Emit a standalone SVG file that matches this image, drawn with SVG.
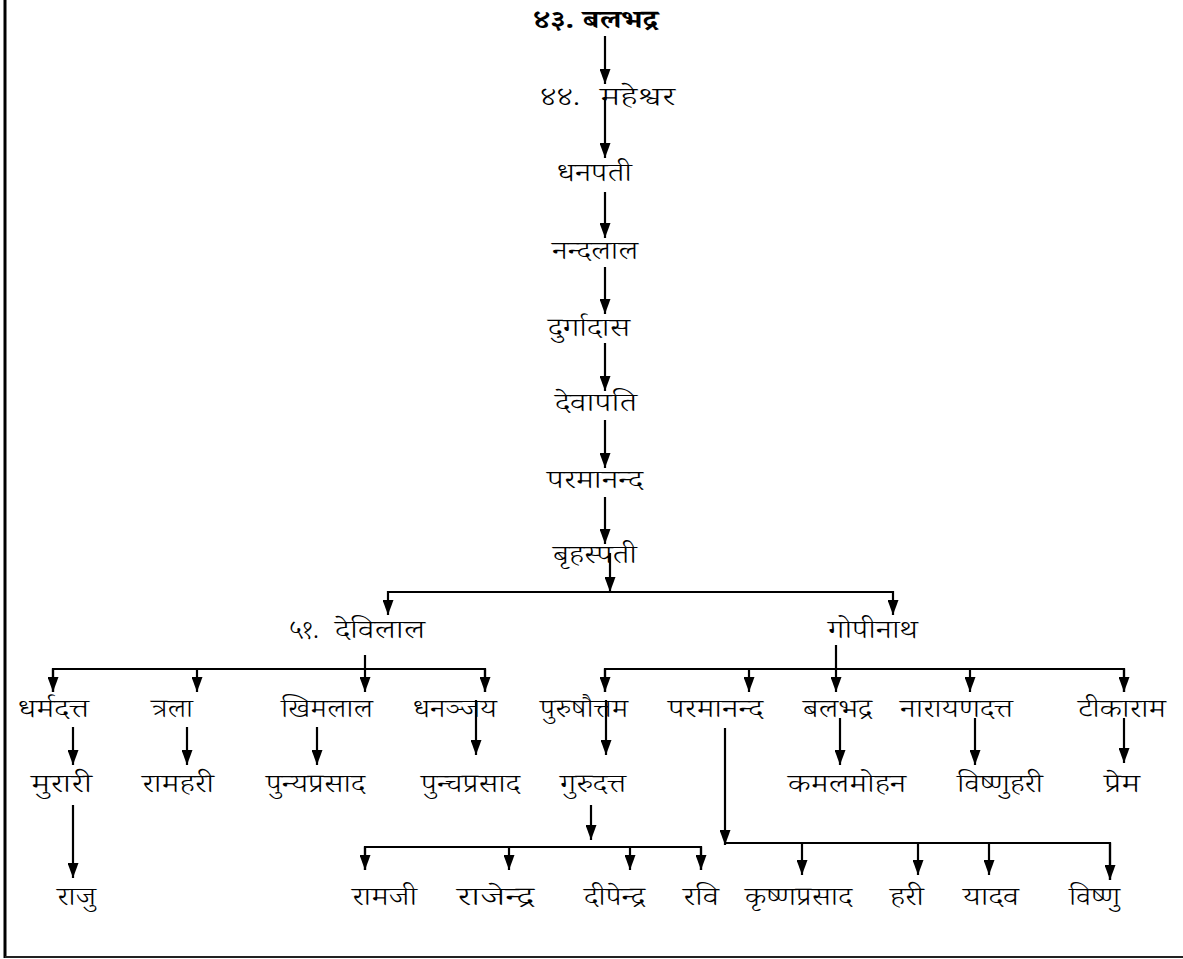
<svg xmlns="http://www.w3.org/2000/svg" width="1183" height="959" viewBox="0 0 1183 959">
<style>
text{font-family:'Noto Serif Devanagari','Noto Sans Devanagari','Lohit Devanagari','Noto Sans',serif;font-size:26px;font-weight:300;fill:#000;text-anchor:start}
.b{font-weight:bold}
.c line,.c polyline{stroke:#000;stroke-width:2.2;fill:none}
.a{marker-end:url(#ah)}
</style>
<defs>
<marker id="ah" viewBox="0 0 15 11" refX="15" refY="5.5" markerWidth="15" markerHeight="11" markerUnits="userSpaceOnUse" orient="auto">
<path d="M0,0 L15,5.5 L0,11 z" fill="#000"/>
</marker>
</defs>
<rect width="1183" height="959" fill="#fff"/>
<line x1="5" y1="0" x2="5" y2="958" stroke="#000" stroke-width="3"/>
<line x1="5" y1="957" x2="1183" y2="957" stroke="#222" stroke-width="2"/>
<g class="c" id="connectors">
<line class="a" x1="605" y1="36" x2="605" y2="84"/>
<line class="a" x1="605" y1="97" x2="605" y2="158"/>
<line class="a" x1="605" y1="192" x2="605" y2="238"/>
<line class="a" x1="605" y1="267" x2="605" y2="314"/>
<line class="a" x1="605" y1="343" x2="605" y2="391"/>
<line class="a" x1="605" y1="420" x2="605" y2="468"/>
<line class="a" x1="605" y1="497" x2="605" y2="544"/>
<line class="a" x1="610" y1="553" x2="610" y2="592"/>
<polyline class="a" points="610,592 388,592 388,615"/>
<polyline class="a" points="610,592 893,592 893,615"/>
<line class="a" x1="365" y1="655" x2="365" y2="692"/>
<polyline points="53,692 53,669 485,669 485,692"/>
<line class="a" x1="53" y1="669" x2="53" y2="692"/>
<line class="a" x1="197" y1="669" x2="197" y2="692"/>
<line class="a" x1="485" y1="669" x2="485" y2="692"/>
<line class="a" x1="836" y1="645" x2="836" y2="692"/>
<polyline points="605,692 605,669 1124,669 1124,692"/>
<line class="a" x1="605" y1="669" x2="605" y2="692"/>
<line class="a" x1="749" y1="669" x2="749" y2="692"/>
<line class="a" x1="970" y1="669" x2="970" y2="692"/>
<line class="a" x1="1124" y1="669" x2="1124" y2="692"/>
<line class="a" x1="73" y1="727" x2="73" y2="765"/>
<line class="a" x1="187" y1="727" x2="187" y2="765"/>
<line class="a" x1="317" y1="727" x2="317" y2="765"/>
<line class="a" x1="476" y1="700" x2="476" y2="755"/>
<line class="a" x1="606" y1="700" x2="606" y2="755"/>
<line class="a" x1="840" y1="718" x2="840" y2="765"/>
<line class="a" x1="975" y1="718" x2="975" y2="765"/>
<line class="a" x1="1124" y1="718" x2="1124" y2="763"/>
<line class="a" x1="73" y1="805" x2="73" y2="878"/>
<line class="a" x1="591" y1="805" x2="591" y2="840"/>
<polyline points="365,870 365,847 701,847 701,870"/>
<line class="a" x1="365" y1="847" x2="365" y2="870"/>
<line class="a" x1="509" y1="847" x2="509" y2="870"/>
<line class="a" x1="630" y1="847" x2="630" y2="870"/>
<line class="a" x1="701" y1="847" x2="701" y2="870"/>
<line class="a" x1="725" y1="728" x2="725" y2="845"/>
<polyline points="725,843 1110,843 1110,880"/>
<line class="a" x1="802" y1="843" x2="802" y2="875"/>
<line class="a" x1="918" y1="843" x2="918" y2="875"/>
<line class="a" x1="989" y1="843" x2="989" y2="875"/>
<line class="a" x1="1110" y1="843" x2="1110" y2="880"/>
</g>
<g id="n43"><text class="b" x="533" y="28" textLength="125" lengthAdjust="spacingAndGlyphs">४३. बलभद्र</text></g>
<g id="n44"><text x="540" y="105" textLength="40" lengthAdjust="spacingAndGlyphs">४४.</text><text x="600" y="105" textLength="75" lengthAdjust="spacingAndGlyphs">महेश्वर</text></g>
<g id="n45"><text x="557" y="181" textLength="75" lengthAdjust="spacingAndGlyphs">धनपती</text></g>
<g id="n46"><text x="552" y="259" textLength="86" lengthAdjust="spacingAndGlyphs">नन्दलाल</text></g>
<g id="n47"><text x="548" y="336" textLength="82" lengthAdjust="spacingAndGlyphs">दुर्गादास</text></g>
<g id="n48"><text x="555" y="411" textLength="82" lengthAdjust="spacingAndGlyphs">देवापति</text></g>
<g id="n49"><text x="547" y="488" textLength="96" lengthAdjust="spacingAndGlyphs">परमानन्द</text></g>
<g id="n50"><text x="553" y="563" textLength="84" lengthAdjust="spacingAndGlyphs">बृहस्पती</text></g>
<g id="n51a"><text x="289" y="638" textLength="30" lengthAdjust="spacingAndGlyphs">५१.</text><text x="335" y="638" textLength="90" lengthAdjust="spacingAndGlyphs">देविलाल</text></g>
<g id="n51b"><text x="828" y="638" textLength="90" lengthAdjust="spacingAndGlyphs">गोपीनाथ</text></g>
<g id="r3a"><text x="18" y="717" textLength="71" lengthAdjust="spacingAndGlyphs">धर्मदत्त</text></g>
<g id="r3b"><text x="151" y="717" textLength="42" lengthAdjust="spacingAndGlyphs">त्रला</text></g>
<g id="r3c"><text x="281" y="717" textLength="92" lengthAdjust="spacingAndGlyphs">खिमलाल</text></g>
<g id="r3d"><text x="413" y="717" textLength="84" lengthAdjust="spacingAndGlyphs">धनञ्जय</text></g>
<g id="r3e"><text x="540" y="717" textLength="88" lengthAdjust="spacingAndGlyphs">पुरुषौत्तम</text></g>
<g id="r3f"><text x="668" y="717" textLength="95" lengthAdjust="spacingAndGlyphs">परमानन्द</text></g>
<g id="r3g"><text x="803" y="717" textLength="69" lengthAdjust="spacingAndGlyphs">बलभद्र</text></g>
<g id="r3h"><text x="900" y="717" textLength="113" lengthAdjust="spacingAndGlyphs">नारायणदत्त</text></g>
<g id="r3i"><text x="1078" y="717" textLength="88" lengthAdjust="spacingAndGlyphs">टीकाराम</text></g>
<g id="r4a"><text x="31" y="792" textLength="61" lengthAdjust="spacingAndGlyphs">मुरारी</text></g>
<g id="r4b"><text x="142" y="792" textLength="72" lengthAdjust="spacingAndGlyphs">रामहरी</text></g>
<g id="r4c"><text x="266" y="792" textLength="99" lengthAdjust="spacingAndGlyphs">पुन्यप्रसाद</text></g>
<g id="r4d"><text x="421" y="792" textLength="99" lengthAdjust="spacingAndGlyphs">पुन्चप्रसाद</text></g>
<g id="r4e"><text x="560" y="792" textLength="66" lengthAdjust="spacingAndGlyphs">गुरुदत्त</text></g>
<g id="r4f"><text x="788" y="792" textLength="118" lengthAdjust="spacingAndGlyphs">कमलमोहन</text></g>
<g id="r4g"><text x="957" y="792" textLength="86" lengthAdjust="spacingAndGlyphs">विष्णुहरी</text></g>
<g id="r4h"><text x="1104" y="792" textLength="36" lengthAdjust="spacingAndGlyphs">प्रेम</text></g>
<g id="r5a"><text x="57" y="905" textLength="39" lengthAdjust="spacingAndGlyphs">राजु</text></g>
<g id="r5b"><text x="352" y="905" textLength="65" lengthAdjust="spacingAndGlyphs">रामजी</text></g>
<g id="r5c"><text x="457" y="905" textLength="77" lengthAdjust="spacingAndGlyphs">राजेन्द्र</text></g>
<g id="r5d"><text x="584" y="905" textLength="61" lengthAdjust="spacingAndGlyphs">दीपेन्द्र</text></g>
<g id="r5e"><text x="683" y="905" textLength="36" lengthAdjust="spacingAndGlyphs">रवि</text></g>
<g id="r5f"><text x="745" y="905" textLength="107" lengthAdjust="spacingAndGlyphs">कृष्णप्रसाद</text></g>
<g id="r5g"><text x="890" y="905" textLength="34" lengthAdjust="spacingAndGlyphs">हरी</text></g>
<g id="r5h"><text x="963" y="905" textLength="56" lengthAdjust="spacingAndGlyphs">यादव</text></g>
<g id="r5i"><text x="1069" y="905" textLength="51" lengthAdjust="spacingAndGlyphs">विष्णु</text></g>
</svg>
